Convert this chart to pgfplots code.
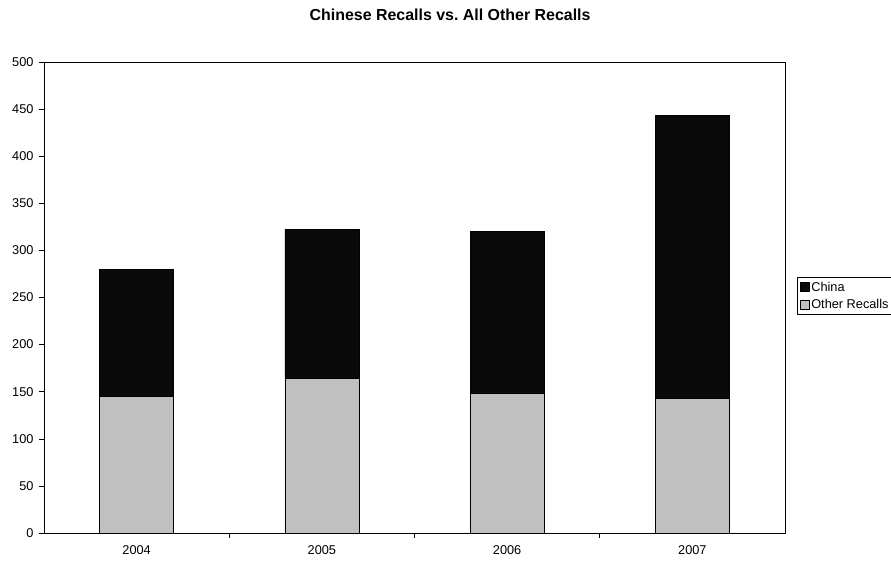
\documentclass[border=0pt]{standalone}
\usepackage{pgfplots}
\pgfplotsset{compat=1.18}
\usepackage{fontspec}
\setmainfont{Liberation Sans}
\definecolor{chinablack}{HTML}{0A0A0A}
\definecolor{othergray}{HTML}{C0C0C0}
\begin{document}
\frenchspacing
\begin{tikzpicture}
\path[use as bounding box] (-44bp,-29bp) rectangle (847bp,533bp);
\begin{axis}[
  at={(0,0)}, anchor=south west,
  scale only axis,
  width=741bp, height=471bp,
  ybar stacked,
  bar width=0.4,
  xmin=-0.5, xmax=3.5,
  ymin=0, ymax=500,
  ytick={0,50,...,500},
  xtick={0.5,1.5,2.5},
  xticklabels={},
  extra x ticks={0,1,2,3},
  extra x tick labels={2004,2005,2006,2007},
  extra x tick style={major tick length=0pt, xticklabel style={yshift=-9bp}},
  tick align=outside,
  major tick length=5bp,
  xtick pos=bottom, ytick pos=left,
  tick style={black, line width=0.6pt},
  axis line style={black, line width=0.8pt},
  /pgf/number format/assume math mode=true,
  /pgf/number format/1000 sep={},
  tick label style={font=\fontsize{12.8}{14}\selectfont},
  yticklabel style={xshift=-2bp},
  title={\textbf{Chinese Recalls vs. All Other Recalls}},
  title style={at={(0.548,1.087)}, anchor=center, font=\fontsize{16}{18}\selectfont},
  legend style={at={(1.0162,0.5435)}, anchor=north west, draw=black, line width=0.6pt,
    font=\fontsize{12.8}{14}\selectfont, inner sep=2.5bp, row sep=2.5bp,
    cells={anchor=west}},
  legend image code/.code={\draw[#1, line width=0.5pt] (0bp,-4.5bp) rectangle (9bp,4.5bp);},
  reverse legend,
]
\addplot[fill=othergray, draw=black, line width=0.6pt] coordinates {(0,145) (1,164) (2,148) (3,143)};
\addlegendentry{Other Recalls}
\addplot[fill=chinablack, draw=black, line width=0.6pt] coordinates {(0,135) (1,158) (2,172) (3,300)};
\addlegendentry{China}
\end{axis}
\end{tikzpicture}
\end{document}
